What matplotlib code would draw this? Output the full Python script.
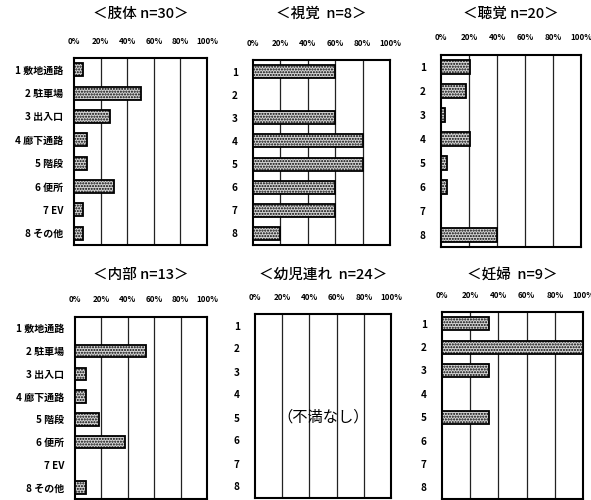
import matplotlib.pyplot as plt

plt.rcParams['font.family'] = ['Noto Sans CJK JP', 'DejaVu Sans']

# categories
cat_names = ["1 敷地通路", "2 駐車場", "3 出入口", "4 廊下通路", "5 階段", "6 便所", "7 EV", "8 その他"]
cat_nums = ["1", "2", "3", "4", "5", "6", "7", "8"]
xticks = [0, 20, 40, 60, 80, 100]
xtick_labels = ["0%", "20%", "40%", "60%", "80%", "100%"]

# percentage of complaints per place
titles = ["＜肢体 n=30＞", "＜視覚  n=8＞", "＜聴覚 n=20＞",
          "＜内部 n=13＞", "＜幼児連れ  n=24＞", "＜妊婦  n=9＞"]
shitai = [6.7, 50, 26.7, 10, 10, 30, 6.7, 6.7]
shikaku = [60, 0, 60, 80, 80, 60, 60, 20]
choukaku = [21, 18, 3, 21, 4, 4, 0, 40]
naibu = [0, 54, 8, 8, 18, 38, 0, 8]
youji = [0, 0, 0, 0, 0, 0, 0, 0]
ninpu = [33.3, 100, 33.3, 0, 33.3, 0, 0, 0]
series = [shitai, shikaku, choukaku, naibu, youji, ninpu]

W, H = 591, 500
# axes boxes in pixels: left, right, top, bottom
boxes = [(74, 207, 58, 245), (253, 390, 60, 245), (441, 581, 55, 247),
         (75, 207, 317, 499), (255, 391, 314, 498), (442, 583, 312, 499)]
title_y = [14, 14, 14, 275, 275, 275]

fig = plt.figure(figsize=(W / 100, H / 100), dpi=100)

for i, (vals, box) in enumerate(zip(series, boxes)):
    l, r, t, b = box
    ax = fig.add_axes([l / W, 1 - b / H, (r - l) / W, (b - t) / H])
    y = list(range(len(vals)))
    ax.barh(y, vals, height=0.56, color="#d4d4d4", edgecolor="black",
            linewidth=1.3, hatch="......", zorder=3)
    for g in xticks[1:-1]:
        ax.axvline(g, color="#222222", linewidth=0.9, zorder=1)
    ax.set_xlim(0, 100)
    ax.set_ylim(7.5, -0.5)
    ax.set_xticks(xticks)
    ax.set_xticklabels(xtick_labels, fontsize=5.8, fontweight="bold")
    ax.xaxis.tick_top()
    ax.set_yticks(y)
    if i % 3 == 0:
        ax.set_yticklabels(cat_names, fontsize=7.2, fontweight="bold")
        ax.tick_params(axis="y", length=0, pad=8)
    else:
        ax.set_yticklabels(cat_nums, fontsize=7.2, fontweight="bold")
        ax.tick_params(axis="y", length=0, pad=11)
    ax.tick_params(axis="x", length=0, pad=9)
    for s in ax.spines.values():
        s.set_linewidth(1.5)
    cx = (l + r) / 2 / W
    fig.text(cx, 1 - title_y[i] / H, titles[i], ha="center", va="center",
             fontsize=10.5, fontweight="medium")
    if i == 4:
        ax.text(50, 4, "（不満なし）", ha="center", va="center", fontsize=11,
                zorder=4)

fig.savefig("out.png", dpi=100)
